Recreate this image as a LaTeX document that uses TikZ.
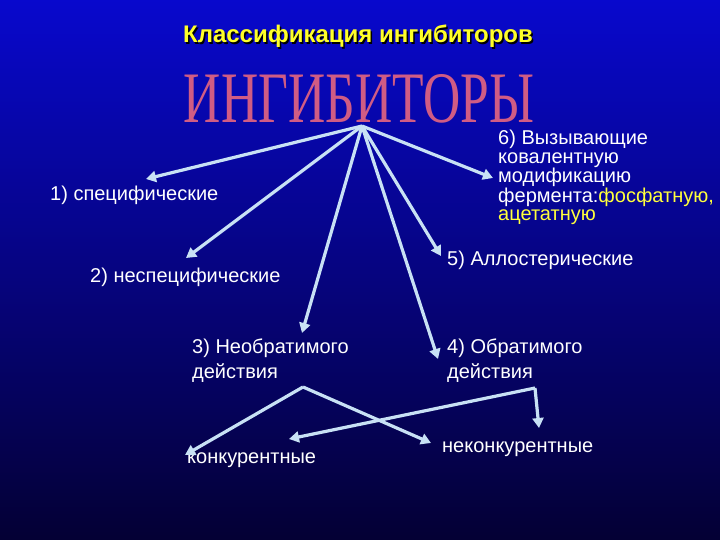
\documentclass[tikz,border=0pt]{standalone}
\usepackage{fontspec}
\setmainfont{Liberation Sans}
\newfontfamily\bigserif{Liberation Serif}
\usetikzlibrary{arrows.meta}
\definecolor{arr}{RGB}{200,225,245}
\definecolor{bgtop}{RGB}{8,8,205}
\definecolor{bgmid}{RGB}{15,15,145}
\definecolor{bgbot}{RGB}{4,0,52}
\definecolor{ttl}{RGB}{255,255,40}
\definecolor{pinkw}{RGB}{208,92,132}
\definecolor{yel}{RGB}{255,255,60}
\begin{document}
\begin{tikzpicture}[x=1pt,y=-1pt,
  arrowline/.style={draw=arr, line width=3.2pt, -{Triangle[length=10pt,width=11pt]}},
  lbl/.style={anchor=base west, inner sep=0pt, text=white, font=\fontsize{20}{18.5}\selectfont, align=left}]
\useasboundingbox (0,0) rectangle (720,540);
\shade[top color=bgtop, middle color=bgmid, bottom color=bgbot] (0,0) rectangle (720,540);
% title
\node[anchor=base, inner sep=0pt, text=black, font=\bfseries\fontsize{24}{24}\selectfont] (titleshadow) at (359.5,44.5) {Классификация ингибиторов};
\node[anchor=base, inner sep=0pt, text=ttl, font=\bfseries\fontsize{24}{24}\selectfont] (title) at (358,43) {Классификация ингибиторов};
% big word
\node[anchor=south, inner sep=0pt, text=pinkw] (big) at (359,123) {\resizebox{350pt}{48pt}{\bigserif ИНГИБИТОРЫ}};
\coordinate (apex) at (362,126);
% labels (multi-line nodes: base = last line)
\node[lbl] (l1) at (50,201) {1) специфические};
\node[lbl] (l2) at (90,282) {2) неспецифические};
\node[lbl] (l3) at (192,378) {3) Необратимого\\[4.5pt]действия};
\node[lbl] (l4) at (447,378) {4) Обратимого\\[4.5pt]действия};
\node[lbl] (l5) at (447,265) {5) Аллостерические};
\node[lbl] (l6) at (498,221) {6) Вызывающие\\ковалентную\\модификацию\\фермента:\textcolor{yel}{фосфатную,}\\\textcolor{yel}{ацетатную}};
\node[lbl] (k) at (187,463) {конкурентные};
\node[lbl] (nk) at (442,452) {неконкурентные};
% arrow ends
\coordinate (e1) at (146,179);
\coordinate (e2) at (186,258);
\coordinate (e3) at (302,333);
\coordinate (e4) at (438,359);
\coordinate (e5) at (441,256);
\coordinate (e6) at (493,178);
\coordinate (s3) at (303,387);
\coordinate (s4) at (535,388);
\coordinate (ek) at (185,455);
\coordinate (enk) at (431,443);
\coordinate (ek2) at (289,439);
\coordinate (enk2) at (539,428);
\draw[arrowline] (apex) -- (e1);
\draw[arrowline] (apex) -- (e2);
\draw[arrowline] (apex) -- (e3);
\draw[arrowline] (apex) -- (e4);
\draw[arrowline] (apex) -- (e5);
\draw[arrowline] (apex) -- (e6);
\draw[arrowline] (s3) -- (ek);
\draw[arrowline] (s3) -- (enk);
\draw[arrowline] (s4) -- (ek2);
\draw[arrowline] (s4) -- (enk2);
\end{tikzpicture}
\end{document}
